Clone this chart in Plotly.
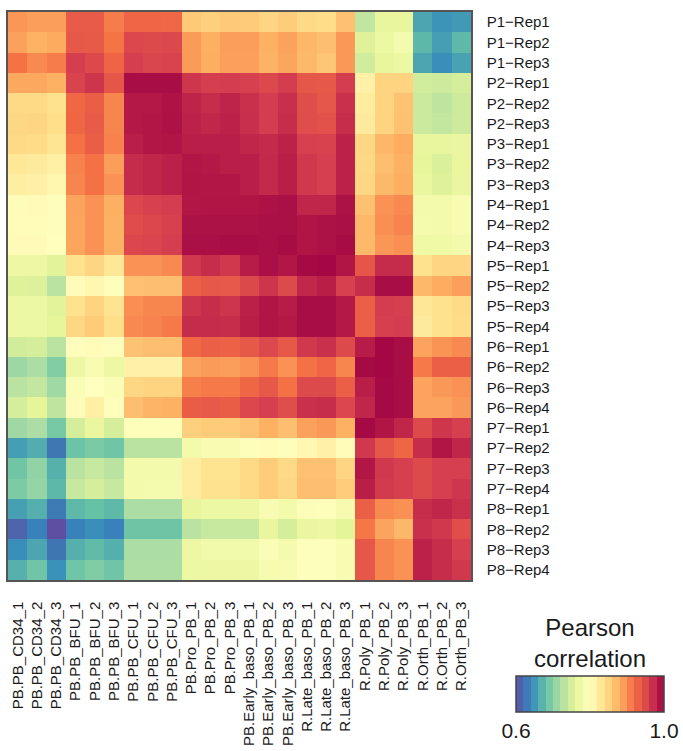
import plotly.graph_objects as go
from plotly.colors import diverging, make_colorscale, sample_colorscale

# ---- column (reference) labels ----
col_labels = ["PB.PB_CD34_1", "PB.PB_CD34_2", "PB.PB_CD34_3",
              "PB.PB_BFU_1", "PB.PB_BFU_2", "PB.PB_BFU_3",
              "PB.PB_CFU_1", "PB.PB_CFU_2", "PB.PB_CFU_3",
              "PB.Pro_PB_1", "PB.Pro_PB_2", "PB.Pro_PB_3",
              "PB.Early_baso_PB_1", "PB.Early_baso_PB_2", "PB.Early_baso_PB_3",
              "R.Late_baso_PB_1", "R.Late_baso_PB_2", "R.Late_baso_PB_3",
              "R.Poly_PB_1", "R.Poly_PB_2", "R.Poly_PB_3",
              "R.Orth_PB_1", "R.Orth_PB_2", "R.Orth_PB_3"]

# ---- row (sample) labels ----
row_labels = ["P1\u2212Rep1", "P1\u2212Rep2", "P1\u2212Rep3",
              "P2\u2212Rep1", "P2\u2212Rep2", "P2\u2212Rep3",
              "P3\u2212Rep1", "P3\u2212Rep2", "P3\u2212Rep3",
              "P4\u2212Rep1", "P4\u2212Rep2", "P4\u2212Rep3",
              "P5\u2212Rep1", "P5\u2212Rep2", "P5\u2212Rep3", "P5\u2212Rep4",
              "P6\u2212Rep1", "P6\u2212Rep2", "P6\u2212Rep3", "P6\u2212Rep4",
              "P7\u2212Rep1", "P7\u2212Rep2", "P7\u2212Rep3", "P7\u2212Rep4",
              "P8\u2212Rep1", "P8\u2212Rep2", "P8\u2212Rep3", "P8\u2212Rep4"]

# ---- Pearson correlation values, one list per sample row ----
P1_Rep1 = [0.895, 0.890, 0.890, 0.935, 0.935, 0.910, 0.927, 0.927, 0.925, 0.858, 0.854, 0.858,
           0.857, 0.849, 0.855, 0.845, 0.842, 0.865, 0.735, 0.765, 0.765, 0.660, 0.648, 0.652]
P1_Rep2 = [0.888, 0.877, 0.882, 0.938, 0.936, 0.916, 0.952, 0.950, 0.951, 0.892, 0.879, 0.890,
           0.890, 0.878, 0.887, 0.873, 0.867, 0.893, 0.755, 0.770, 0.783, 0.673, 0.655, 0.674]
P1_Rep3 = [0.917, 0.903, 0.910, 0.960, 0.951, 0.928, 0.960, 0.953, 0.956, 0.892, 0.880, 0.889,
           0.889, 0.876, 0.885, 0.871, 0.861, 0.893, 0.745, 0.765, 0.770, 0.660, 0.645, 0.658]
P2_Rep1 = [0.883, 0.883, 0.878, 0.956, 0.966, 0.940, 0.992, 0.992, 0.992, 0.965, 0.960, 0.961,
           0.958, 0.951, 0.961, 0.939, 0.938, 0.961, 0.818, 0.850, 0.850, 0.745, 0.744, 0.748]
P2_Rep2 = [0.845, 0.845, 0.838, 0.925, 0.933, 0.905, 0.985, 0.985, 0.988, 0.977, 0.971, 0.977,
           0.969, 0.961, 0.970, 0.946, 0.939, 0.969, 0.825, 0.850, 0.864, 0.742, 0.733, 0.744]
P2_Rep3 = [0.847, 0.848, 0.840, 0.926, 0.935, 0.905, 0.985, 0.986, 0.989, 0.979, 0.975, 0.979,
           0.970, 0.961, 0.971, 0.946, 0.943, 0.971, 0.827, 0.850, 0.865, 0.742, 0.736, 0.744]
P3_Rep1 = [0.845, 0.843, 0.834, 0.918, 0.933, 0.907, 0.981, 0.986, 0.987, 0.981, 0.981, 0.981,
           0.976, 0.973, 0.979, 0.958, 0.957, 0.979, 0.847, 0.873, 0.881, 0.765, 0.765, 0.768]
P3_Rep2 = [0.830, 0.827, 0.820, 0.907, 0.918, 0.890, 0.972, 0.976, 0.980, 0.986, 0.985, 0.981,
           0.981, 0.974, 0.981, 0.964, 0.959, 0.979, 0.846, 0.867, 0.878, 0.762, 0.752, 0.766]
P3_Rep3 = [0.822, 0.820, 0.812, 0.905, 0.918, 0.897, 0.972, 0.976, 0.980, 0.987, 0.986, 0.986,
           0.981, 0.974, 0.981, 0.964, 0.959, 0.979, 0.847, 0.871, 0.880, 0.766, 0.755, 0.768]
P4_Rep1 = [0.804, 0.806, 0.797, 0.886, 0.897, 0.879, 0.952, 0.958, 0.961, 0.986, 0.987, 0.987,
           0.987, 0.989, 0.991, 0.976, 0.976, 0.989, 0.865, 0.897, 0.903, 0.780, 0.780, 0.787]
P4_Rep2 = [0.805, 0.804, 0.796, 0.885, 0.897, 0.878, 0.947, 0.952, 0.958, 0.989, 0.989, 0.989,
           0.989, 0.991, 0.991, 0.987, 0.989, 0.991, 0.872, 0.899, 0.906, 0.782, 0.780, 0.787]
P4_Rep3 = [0.806, 0.806, 0.798, 0.885, 0.897, 0.878, 0.952, 0.955, 0.960, 0.991, 0.991, 0.992,
           0.992, 0.991, 0.993, 0.987, 0.989, 0.993, 0.871, 0.895, 0.899, 0.774, 0.774, 0.780]
P5_Rep1 = [0.772, 0.772, 0.757, 0.838, 0.849, 0.831, 0.897, 0.897, 0.902, 0.964, 0.971, 0.964,
           0.982, 0.991, 0.986, 0.994, 0.996, 0.987, 0.940, 0.972, 0.972, 0.838, 0.849, 0.849]
P5_Rep2 = [0.755, 0.754, 0.730, 0.804, 0.812, 0.803, 0.865, 0.867, 0.867, 0.932, 0.938, 0.937,
           0.951, 0.966, 0.950, 0.975, 0.981, 0.958, 0.971, 0.992, 0.992, 0.871, 0.881, 0.889]
P5_Rep3 = [0.771, 0.771, 0.757, 0.838, 0.850, 0.835, 0.899, 0.905, 0.905, 0.966, 0.971, 0.966,
           0.980, 0.987, 0.982, 0.992, 0.992, 0.985, 0.932, 0.961, 0.959, 0.830, 0.838, 0.844]
P5_Rep4 = [0.771, 0.771, 0.762, 0.847, 0.857, 0.840, 0.903, 0.906, 0.912, 0.972, 0.972, 0.971,
           0.981, 0.987, 0.985, 0.992, 0.992, 0.985, 0.932, 0.959, 0.961, 0.827, 0.838, 0.843]
P6_Rep1 = [0.746, 0.748, 0.730, 0.803, 0.805, 0.803, 0.864, 0.867, 0.867, 0.924, 0.932, 0.929,
           0.938, 0.951, 0.938, 0.964, 0.969, 0.950, 0.982, 0.996, 0.992, 0.886, 0.896, 0.902]
P6_Rep2 = [0.712, 0.720, 0.697, 0.772, 0.787, 0.772, 0.818, 0.818, 0.818, 0.887, 0.892, 0.890,
           0.897, 0.912, 0.897, 0.918, 0.927, 0.905, 0.994, 0.996, 0.992, 0.912, 0.932, 0.932]
P6_Rep3 = [0.730, 0.736, 0.714, 0.790, 0.800, 0.790, 0.847, 0.850, 0.850, 0.909, 0.912, 0.912,
           0.926, 0.938, 0.918, 0.950, 0.950, 0.932, 0.981, 0.994, 0.992, 0.886, 0.893, 0.897]
P6_Rep4 = [0.748, 0.760, 0.733, 0.804, 0.820, 0.803, 0.867, 0.875, 0.878, 0.934, 0.937, 0.934,
           0.952, 0.959, 0.946, 0.969, 0.971, 0.952, 0.976, 0.994, 0.992, 0.886, 0.886, 0.893]
P7_Rep1 = [0.713, 0.720, 0.690, 0.748, 0.766, 0.748, 0.795, 0.795, 0.795, 0.854, 0.857, 0.857,
           0.864, 0.878, 0.867, 0.888, 0.893, 0.878, 0.994, 0.987, 0.976, 0.950, 0.965, 0.959]
P7_Rep2 = [0.655, 0.665, 0.628, 0.683, 0.692, 0.685, 0.730, 0.730, 0.730, 0.780, 0.787, 0.787,
           0.795, 0.804, 0.797, 0.810, 0.818, 0.805, 0.964, 0.939, 0.926, 0.971, 0.987, 0.976]
P7_Rep3 = [0.685, 0.705, 0.668, 0.730, 0.738, 0.730, 0.780, 0.780, 0.780, 0.824, 0.836, 0.836,
           0.845, 0.855, 0.845, 0.865, 0.865, 0.849, 0.986, 0.964, 0.959, 0.950, 0.959, 0.959]
P7_Rep4 = [0.693, 0.707, 0.673, 0.738, 0.748, 0.738, 0.780, 0.783, 0.783, 0.824, 0.837, 0.837,
           0.845, 0.855, 0.847, 0.867, 0.867, 0.855, 0.981, 0.962, 0.959, 0.950, 0.959, 0.965]
P8_Rep1 = [0.656, 0.667, 0.630, 0.674, 0.680, 0.674, 0.720, 0.720, 0.720, 0.765, 0.770, 0.770,
           0.772, 0.787, 0.780, 0.793, 0.795, 0.785, 0.932, 0.903, 0.898, 0.971, 0.976, 0.969]
P8_Rep2 = [0.615, 0.635, 0.600, 0.635, 0.645, 0.635, 0.684, 0.684, 0.684, 0.730, 0.738, 0.738,
           0.738, 0.765, 0.748, 0.768, 0.772, 0.758, 0.914, 0.886, 0.873, 0.969, 0.964, 0.946]
P8_Rep3 = [0.645, 0.660, 0.627, 0.667, 0.675, 0.667, 0.720, 0.720, 0.720, 0.772, 0.778, 0.778,
           0.778, 0.790, 0.783, 0.797, 0.797, 0.787, 0.939, 0.905, 0.897, 0.979, 0.971, 0.959]
P8_Rep4 = [0.668, 0.685, 0.646, 0.685, 0.695, 0.685, 0.722, 0.722, 0.722, 0.770, 0.770, 0.772,
           0.772, 0.785, 0.787, 0.797, 0.797, 0.787, 0.939, 0.905, 0.897, 0.979, 0.971, 0.964]

z = [P1_Rep1, P1_Rep2, P1_Rep3, P2_Rep1, P2_Rep2, P2_Rep3, P3_Rep1, P3_Rep2, P3_Rep3,
     P4_Rep1, P4_Rep2, P4_Rep3, P5_Rep1, P5_Rep2, P5_Rep3, P5_Rep4,
     P6_Rep1, P6_Rep2, P6_Rep3, P6_Rep4, P7_Rep1, P7_Rep2, P7_Rep3, P7_Rep4,
     P8_Rep1, P8_Rep2, P8_Rep3, P8_Rep4]

zmin, zmax = 0.6, 1.0
cbar_ticks = [0.6, 1.0]
cbar_ticktext = ["0.6", "1.0"]

# ---- colour scales ----
spectral_r = list(reversed(diverging.Spectral))
cont_scale = make_colorscale(spectral_r)
n_bands = 20
band_cols = sample_colorscale(cont_scale, [(i + 0.5) / n_bands for i in range(n_bands)])
step_scale = []
for i, c in enumerate(band_cols):
    step_scale += [[i / n_bands, c], [(i + 1) / n_bands, c]]

FONT = "Liberation Sans, Arial, Helvetica, sans-serif"
W, H = 683, 751
ML, MR, MT, MB = 8, 212, 12, 171
PW, PH = W - ML - MR, H - MT - MB


def px_x(px):
    return (px - ML) / PW


def px_y(py):
    return (H - MB - py) / PH


fig = go.Figure()
fig.add_trace(go.Heatmap(z=z, x=col_labels, y=row_labels, colorscale=cont_scale,
                         zmin=zmin, zmax=zmax, showscale=False))

# colour bar (banded legend)
fig.add_trace(go.Scatter(
    x=[None], y=[None], mode="markers", showlegend=False, hoverinfo="skip",
    marker=dict(color=[zmin], cmin=zmin, cmax=zmax, colorscale=step_scale, showscale=True,
                colorbar=dict(orientation="h", xref="paper", yref="paper",
                              x=px_x(590), xanchor="center", y=px_y(676), yanchor="top",
                              lenmode="pixels", len=148, thickness=36,
                              outlinecolor="#444444", outlinewidth=1.5,
                              tickvals=cbar_ticks, ticktext=cbar_ticktext, ticks="",
                              tickfont=dict(size=21, color="#1a1a1a", family=FONT),
                              xpad=0, ypad=0))))

fig.add_annotation(text="Pearson<br>correlation", xref="paper", yref="paper",
                   x=px_x(590), y=px_y(643),
                   xanchor="center", yanchor="middle", showarrow=False,
                   font=dict(size=24, color="#1a1a1a", family=FONT))

fig.update_layout(
    width=W, height=H, margin=dict(l=ML, r=MR, t=MT, b=MB, pad=0),
    paper_bgcolor="white", plot_bgcolor="white",
    font=dict(family=FONT, color="#1a1a1a"),
    xaxis=dict(type="category", range=[-0.5, len(col_labels) - 0.5], tickangle=-90,
               tickfont=dict(size=15), ticks="", ticklabelstandoff=14,
               showline=True, mirror=True, linecolor="#555555", linewidth=1.5,
               showgrid=False, zeroline=False, automargin=False, fixedrange=True),
    yaxis=dict(type="category", range=[len(row_labels) - 0.5, -0.5], side="right",
               tickfont=dict(size=15), ticks="", ticklabelstandoff=11,
               showline=True, mirror=True, linecolor="#555555", linewidth=1.5,
               showgrid=False, zeroline=False, automargin=False, fixedrange=True),
)

fig.write_html("out.html")
